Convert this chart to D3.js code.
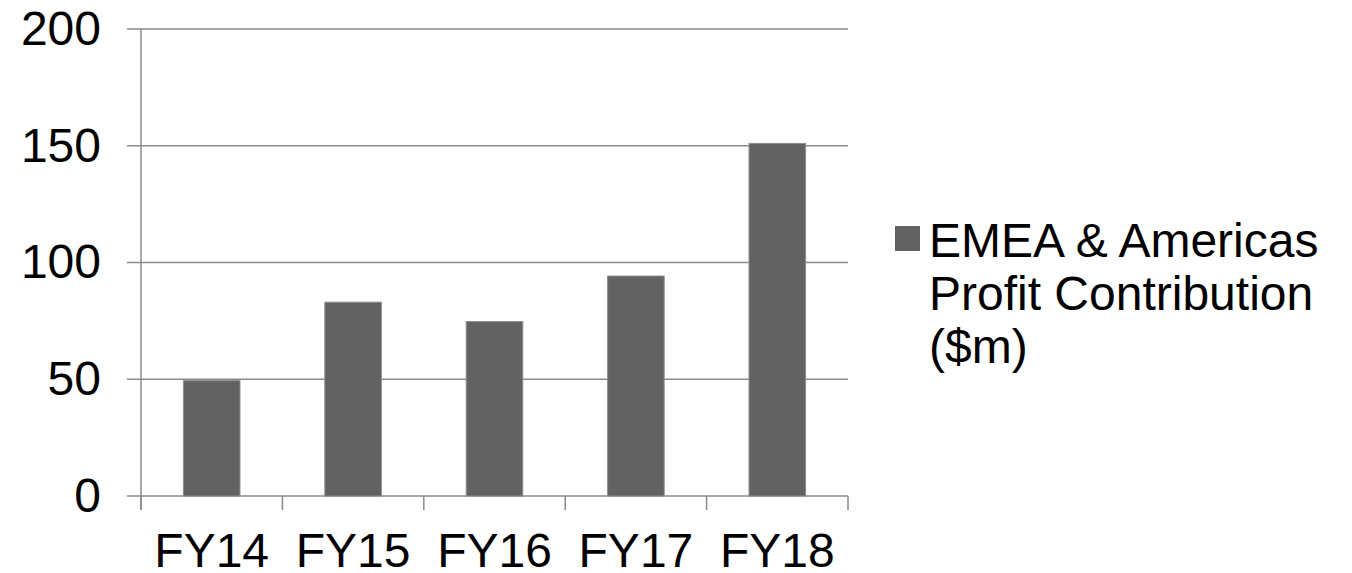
<!DOCTYPE html>
<html>
<head>
<meta charset="utf-8">
<script src="https://cdn.jsdelivr.net/npm/d3@7"></script>
<style>
  html, body { margin: 0; padding: 0; background: #fff; }
  svg { display: block; }
  text { font-family: "Liberation Sans", Arial, sans-serif; fill: #000; }
</style>
</head>
<body>
<svg id="chart" width="1352" height="573"></svg>
<script>
const categories = ["FY14", "FY15", "FY16", "FY17", "FY18"];
const values = [49.4, 83, 74.7, 94.2, 151];
const yTicks = [0, 50, 100, 150, 200];
const seriesName = ["EMEA & Americas", "Profit Contribution", "($m)"];

(function () {
const svg = d3.select("#chart");
const mLeft = 141, mRight = 848, mTop = 29, mBottom = 496;
const tickLen = 14;
const gridColor = "#8a8a8a";
const barColor = "#626262";

const x = d3.scaleBand().domain(categories).range([mLeft, mRight]).paddingInner(0.6).paddingOuter(0.3);
const y = d3.scaleLinear().domain([0, 200]).range([mBottom, mTop]);

// gridlines
svg.append("g").selectAll("line").data(yTicks).join("line")
  .attr("x1", mLeft - tickLen).attr("x2", mRight)
  .attr("y1", d => y(d)).attr("y2", d => y(d))
  .attr("stroke", gridColor).attr("stroke-width", 1.5);

// y axis labels
const yAxis = svg.append("g").attr("transform", `translate(${mLeft},0)`)
  .call(d3.axisLeft(y).tickValues(yTicks).tickSize(tickLen).tickPadding(26).tickFormat(d3.format("d")));
yAxis.select(".domain").remove();
yAxis.selectAll(".tick line").remove();
yAxis.selectAll("text").style("font-size", "48px").attr("fill", "#000");

// y axis line
svg.append("line")
  .attr("x1", mLeft).attr("x2", mLeft)
  .attr("y1", y(200)).attr("y2", mBottom + tickLen)
  .attr("stroke", gridColor).attr("stroke-width", 1.5);

// bars
svg.append("g").selectAll("rect").data(values).join("rect")
  .attr("x", (d, i) => x(categories[i]))
  .attr("width", x.bandwidth())
  .attr("y", d => y(d))
  .attr("height", d => y(0) - y(d))
  .attr("fill", barColor)
  .attr("stroke", "#8c8c8c").attr("stroke-width", 1);

// x axis boundary ticks
const step = x.step();
const x0 = x(categories[0]) - x.step() * x.paddingOuter() - x.step() * x.paddingInner() / 2 + x.step() * x.paddingInner() / 2;
svg.append("g").selectAll("line").data(d3.range(categories.length + 1)).join("line")
  .attr("x1", i => mLeft + i * (mRight - mLeft) / categories.length)
  .attr("x2", i => mLeft + i * (mRight - mLeft) / categories.length)
  .attr("y1", mBottom).attr("y2", mBottom + tickLen)
  .attr("stroke", gridColor).attr("stroke-width", 1.5);

// x axis labels
const xAxis = svg.append("g").attr("transform", `translate(0,${mBottom})`)
  .call(d3.axisBottom(x).tickSize(tickLen).tickPadding(23));
xAxis.select(".domain").remove();
xAxis.selectAll(".tick line").remove();
xAxis.selectAll("text").style("font-size", "48px").attr("fill", "#000");

// legend
const lg = svg.append("g");
lg.append("rect").attr("x", 895).attr("y", 226).attr("width", 25).attr("height", 25).attr("fill", barColor);
lg.append("text").attr("x", 929).attr("y", 257).style("font-size", "48px")
  .selectAll("tspan").data(seriesName).join("tspan")
  .attr("x", 929).attr("dy", (d, i) => i === 0 ? 0 : 53).text(d => d);
})();
</script>
</body>
</html>
